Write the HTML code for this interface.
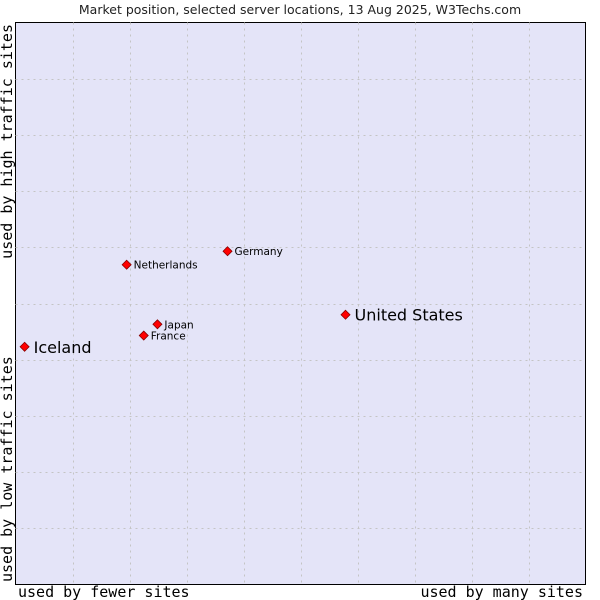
<!DOCTYPE html>
<html><head><meta charset="utf-8"><style>
body{margin:0;background:#fff;}
svg{display:block;}
</style></head><body>
<svg id="chart" width="600" height="600" xmlns="http://www.w3.org/2000/svg">
<text x="300" y="14" text-anchor="middle" font-family="DejaVu Sans, sans-serif" font-size="12.5" fill="#222">Market position, selected server locations, 13 Aug 2025, W3Techs.com</text>
<rect x="15.5" y="22.5" width="570" height="562" fill="#e4e4f8" stroke="#000" stroke-width="1"/>
<g id="grid"></g>
<g id="points"></g>
<text x="18" y="597" font-family="DejaVu Sans Mono, monospace" font-size="15" fill="#000">used by fewer sites</text>
<text x="583" y="597" text-anchor="end" font-family="DejaVu Sans Mono, monospace" font-size="15" fill="#000">used by many sites</text>
<text transform="translate(12,24) rotate(-90)" text-anchor="end" font-family="DejaVu Sans Mono, monospace" font-size="15" fill="#000">used by high traffic sites</text>
<text transform="translate(12,582) rotate(-90)" font-family="DejaVu Sans Mono, monospace" font-size="15" fill="#000">used by low traffic sites</text>
</svg>
<script>
const names=["Iceland","United States","Germany","Netherlands","Japan","France"];
const xVals=[1.6,57.9,37.2,19.5,24.9,22.5];
const yVals=[42.3,48.0,59.3,56.9,46.3,44.3];
const big=[true,true,false,false,false,false];
const NS="http://www.w3.org/2000/svg";
const L=15.5,R=585.5,T=22.5,B=584.5;
const xs=v=>L+(R-L)*v/100, ys=v=>B-(B-T)*v/100;
const grid=document.getElementById('grid');
for(let i=1;i<10;i++){
 const a=document.createElementNS(NS,'line');
 
 
 const x=Math.round(xs(i*10))+0.5;
 a.setAttribute('x1',x);a.setAttribute('x2',x);a.setAttribute('y1',T);a.setAttribute('y2',B);
 a.setAttribute('stroke','#c4c4c4');a.setAttribute('stroke-dasharray','2,4');grid.appendChild(a);
 const b=document.createElementNS(NS,'line');
 
 
 const y=Math.round(ys(i*10))+0.5;
 b.setAttribute('y1',y);b.setAttribute('y2',y);b.setAttribute('x1',L);b.setAttribute('x2',R);
 b.setAttribute('stroke','#c4c4c4');b.setAttribute('stroke-dasharray','2,4');grid.appendChild(b);
}
const pts=document.getElementById('points');
names.forEach((n,i)=>{
 const x=xs(xVals[i]),y=ys(yVals[i]);
 const p=document.createElementNS(NS,'polygon');
 
 
 p.setAttribute('points',`${x},${y-4.5} ${x+4.5},${y} ${x},${y+4.5} ${x-4.5},${y}`);
 p.setAttribute('fill','#f00');p.setAttribute('stroke','#800');p.setAttribute('stroke-width','0.8');
 pts.appendChild(p);
 const t=document.createElementNS(NS,'text');
 
 
 t.setAttribute('x',x+(big[i]?9:7));t.setAttribute('y',y+(big[i]?6:4));
 t.setAttribute('font-family','DejaVu Sans, sans-serif');
 t.setAttribute('font-size',big[i]?'16':'10.5');t.setAttribute('fill','#000');
 t.textContent=n;pts.appendChild(t);
});
</script>
</body></html>
